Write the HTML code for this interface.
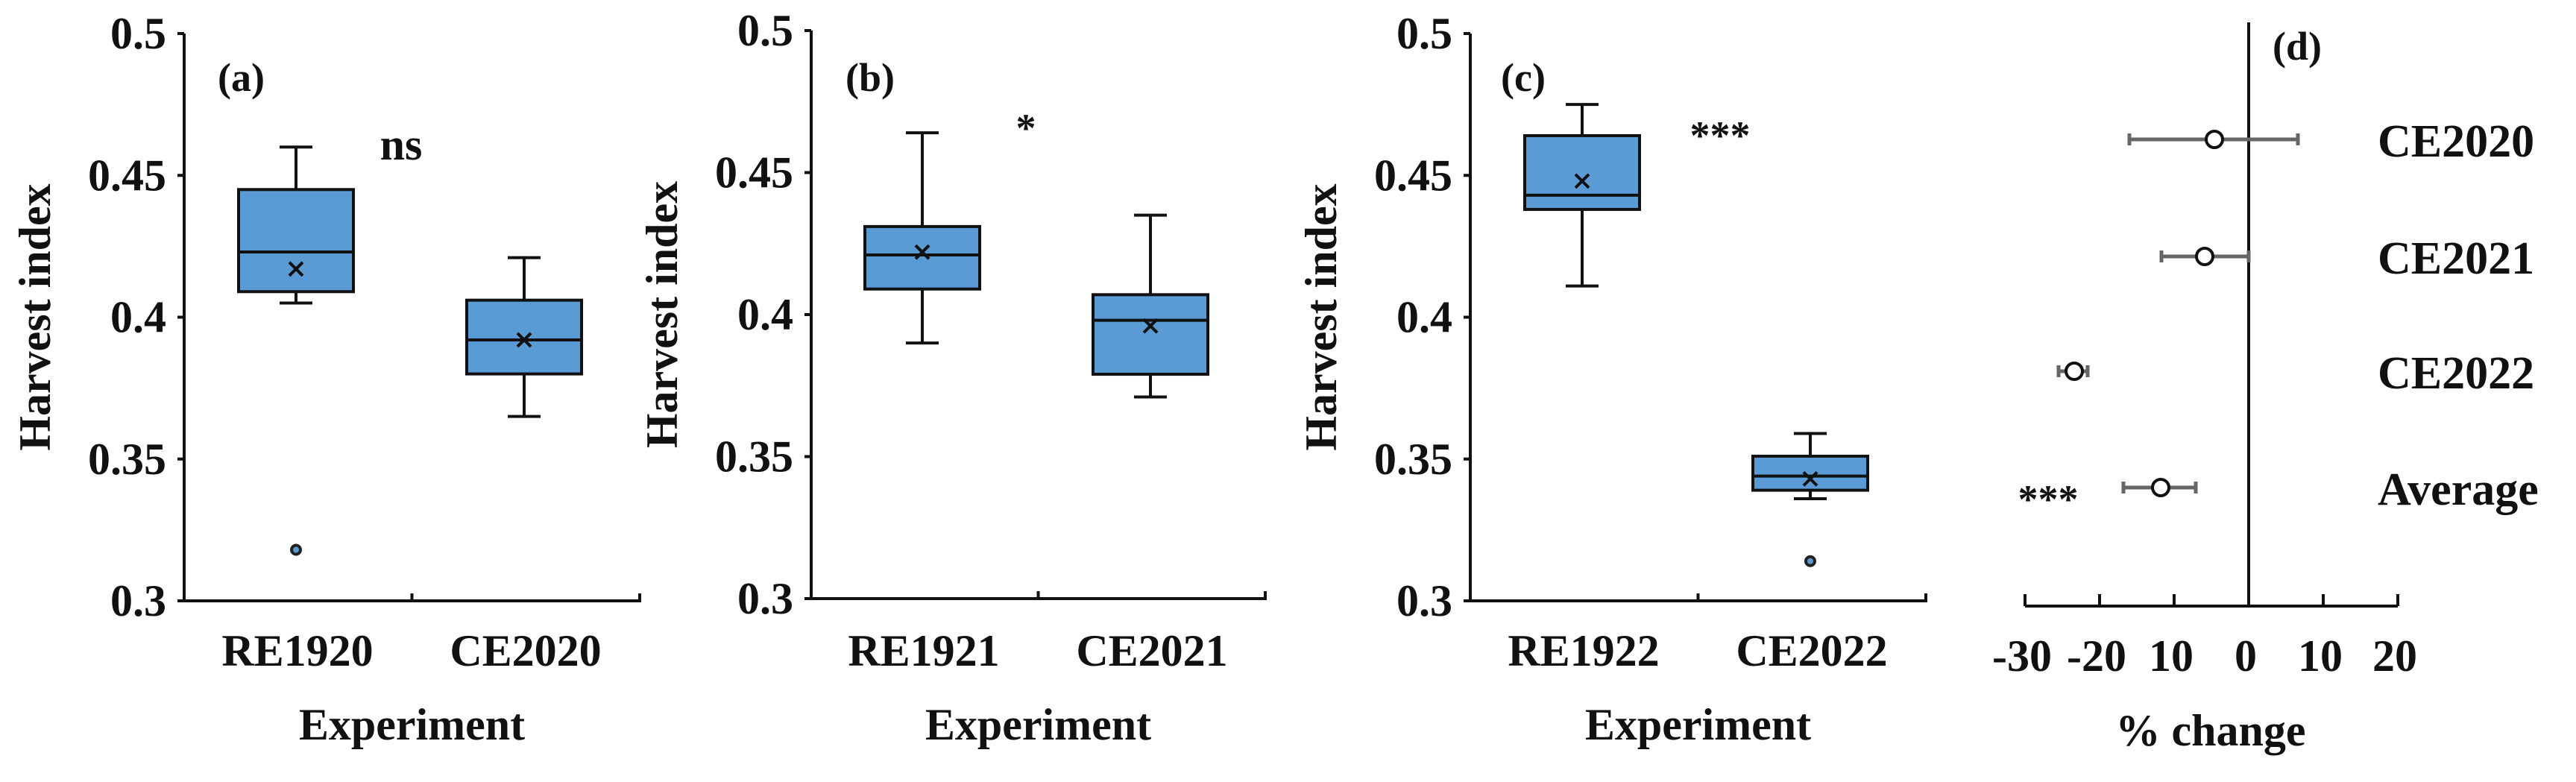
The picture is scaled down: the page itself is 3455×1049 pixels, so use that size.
<!DOCTYPE html>
<html><head><meta charset="utf-8"><style>
html,body{margin:0;padding:0;background:#fff}
svg{display:block}
text{font-family:"Liberation Serif",serif;font-weight:bold;fill:#111}
</style></head><body>
<svg id="fig" width="3455" height="1049" viewBox="0 0 3455 1049" xmlns="http://www.w3.org/2000/svg"></svg>
<script>
// Box plot data per panel
const panelNames = ['a','b','c'];
const panelCats = [['RE1920','CE2020'],['RE1921','CE2021'],['RE1922','CE2022']];
const whiskerLow  = [[0.405,0.365],[0.390,0.371],[0.411,0.336]];
const q1Vals      = [[0.409,0.380],[0.409,0.379],[0.438,0.339]];
const medianVals  = [[0.423,0.392],[0.421,0.398],[0.443,0.344]];
const meanVals    = [[0.417,0.392],[0.422,0.396],[0.448,0.343]];
const q3Vals      = [[0.445,0.406],[0.431,0.407],[0.464,0.351]];
const whiskerHigh = [[0.460,0.421],[0.464,0.435],[0.475,0.359]];
const outlierVals = [[[0.318],[]],[[],[]],[[],[0.314]]];
const sigLabels = ['ns','*','***'];
const yTicks = [0.3,0.35,0.4,0.45,0.5];
const yTickLabels = ['0.3','0.35','0.4','0.45','0.5'];
// Panel d data
const dCats = ['CE2020','CE2021','CE2022','Average'];
const dMeans = [-4.6,-5.9,-23.4,-11.8];
const dLow = [-16,-11.7,-25.5,-16.8];
const dHigh = [6.6,0,-21.6,-7.1];
const dTicks = [-30,-20,-10,0,10,20];
const dTickLabels = ['-30','-20','10','0','10','20'];

const svg = document.getElementById('fig');
const NS = 'http://www.w3.org/2000/svg';
function mk(tag, attrs, parent){const e=document.createElementNS(NS,tag);for(const k in attrs)e.setAttribute(k,attrs[k]);(parent||svg).appendChild(e);return e;}
function txt(s, attrs, parent){const e=mk('text',attrs,parent);e.setAttribute('font-family','Liberation Serif, serif');e.setAttribute('font-weight','bold');e.style.fontFamily='"Liberation Serif", serif';e.style.fontWeight='bold';e.textContent=s;return e;}

const layout = [
  {ax:247, right:858, top:45, bot:806, centers:[397,703], sigX:538, sigY:214, lblX:292},
  {ax:1088, right:1697, top:41, bot:803, centers:[1237,1543], sigX:1376, sigY:190, lblX:1134},
  {ax:1972, right:2583, top:45, bot:806, centers:[2122,2428], sigX:2307, sigY:200, lblX:2013}
];

layout.forEach((L,p)=>{
  const g = mk('g',{});
  
  
  const y = v => L.bot - (v-0.3)/0.2*(L.bot-L.top);
  const ax = mk('path',{d:`M${L.ax} ${L.top} V${L.bot} H${L.right} v-10 M${(L.ax+L.right)/2} ${L.bot} v-10`,stroke:'#111','stroke-width':4,fill:'none'},g);
  
  
  yTicks.forEach((t,i)=>{
    mk('line',{x1:L.ax-9,x2:L.ax,y1:y(t),y2:y(t),stroke:'#111','stroke-width':4},g);
    const tl = txt(yTickLabels[i],{x:L.ax-24,y:y(t)+20,'font-size':60,'text-anchor':'end'},g);
    
    
  });
  const yt = txt('Harvest index',{x:0,y:0,'font-size':60,'text-anchor':'middle',transform:`translate(${L.ax-180},${(L.top+L.bot)/2}) rotate(-90)`},g);
  
  
  const xt = txt('Experiment',{x:(L.ax+L.right)/2,y:992,'font-size':60,'text-anchor':'middle'},g);
  
  
  const pl = txt('('+panelNames[p]+')',{x:L.lblX,y:122,'font-size':54},g);
  
  
  const sg = txt(sigLabels[p],{x:L.sigX,y:L.sigY,'font-size':sigLabels[p]==='ns'?60:54,'text-anchor':'middle'},g);
  
  
  panelCats[p].forEach((c,i)=>{
    const cx = L.centers[i], hw=77, cw=22;
    const bg = mk('g',{},g);
    
    
    mk('path',{d:`M${cx} ${y(whiskerHigh[p][i])} V${y(q3Vals[p][i])} M${cx} ${y(q1Vals[p][i])} V${y(whiskerLow[p][i])} M${cx-cw} ${y(whiskerHigh[p][i])} h${2*cw} M${cx-cw} ${y(whiskerLow[p][i])} h${2*cw}`,stroke:'#111','stroke-width':4,fill:'none'},bg);
    mk('rect',{x:cx-hw,y:y(q3Vals[p][i]),width:2*hw,height:y(q1Vals[p][i])-y(q3Vals[p][i]),fill:'#5B9BD5',stroke:'#111','stroke-width':4},bg);
    mk('line',{x1:cx-hw,x2:cx+hw,y1:y(medianVals[p][i]),y2:y(medianVals[p][i]),stroke:'#111','stroke-width':4},bg);
    const my=y(meanVals[p][i]);
    mk('path',{d:`M${cx-9} ${my-9} L${cx+9} ${my+9} M${cx-9} ${my+9} L${cx+9} ${my-9}`,stroke:'#111','stroke-width':4},bg);
    outlierVals[p][i].forEach(o=>{
      const oc = mk('circle',{cx:cx,cy:y(o),r:6,fill:'#5B9BD5',stroke:'#222','stroke-width':4},bg);
      
      
    });
    const xl = txt(c,{x:cx+2,y:893,'font-size':60,'text-anchor':'middle'},g);
    
    
  });
});

// Panel d
(function(){
  const g = mk('g',{});
  
  
  const zero=3016, unit=10.0, axY=813, rowY=[187,344,498,654];
  const x = v => zero + v*unit;
  const ax = mk('path',{d:`M${x(-30)} ${axY} H${x(20)} M${zero} 30 V${axY}`,stroke:'#111','stroke-width':4,fill:'none'},g);
  
  
  dTicks.forEach((t,i)=>{
    mk('line',{x1:x(t),x2:x(t),y1:axY-16,y2:axY,stroke:'#111','stroke-width':4},g);
    const tl = txt(dTickLabels[i],{x:x(t)-4,y:900,'font-size':60,'text-anchor':'middle'},g);
    
    
  });
  const xt = txt('% change',{x:2965,y:1000,'font-size':60,'text-anchor':'middle'},g);
  
  
  const pl = txt('(d)',{x:3048,y:80,'font-size':54},g);
  
  
  const st = txt('***',{x:2747,y:688,'font-size':54,'text-anchor':'middle'},g);
  
  
  dCats.forEach((c,i)=>{
    const yy=rowY[i];
    const eg = mk('g',{},g);
    
    
    mk('path',{d:`M${x(dLow[i])} ${yy} H${x(dHigh[i])} M${x(dLow[i])} ${yy-8} v16 M${x(dHigh[i])} ${yy-8} v16`,stroke:'#666','stroke-width':5,fill:'none'},eg);
    mk('circle',{cx:x(dMeans[i]),cy:yy,r:11,fill:'#fff',stroke:'#111','stroke-width':4},eg);
    const lb = txt(c,{x:3189,y:yy+23,'font-size':62},g);
    
    
  });
})();
</script>
</body></html>
